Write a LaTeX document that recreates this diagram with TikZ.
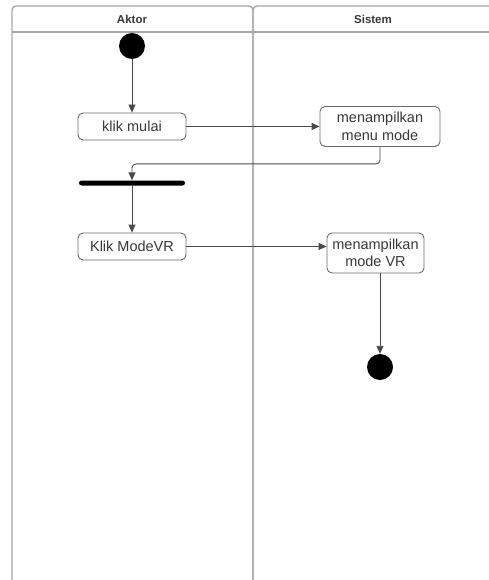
\documentclass[tikz,border=0pt]{standalone}
\usepackage{fontspec}
\setmainfont{Liberation Sans}
\usetikzlibrary{arrows.meta}
\definecolor{lanegray}{HTML}{A8A8A8}
\definecolor{boxgray}{HTML}{6A6A6A}
\definecolor{arrowgray}{HTML}{4A4A4A}
\definecolor{txt}{HTML}{383838}
\begin{document}
\begin{tikzpicture}[x=1pt,y=-1pt,
  lane/.style={draw=lanegray, line width=1.4pt, rounded corners=4pt},
  act/.style={draw=boxgray, line width=0.9pt, rounded corners=5pt, fill=white,
    text=txt, font=\fontsize{14.5}{17.5}\selectfont, align=center, inner sep=0pt},
  flow/.style={draw=arrowgray, line width=0.9pt, -{Triangle[length=8pt,width=7pt]}},
  dot/.style={circle, fill=black, minimum size=26pt, inner sep=0pt},
  syncbar/.style={fill=black, rounded corners=2.5pt, minimum width=106pt,
    minimum height=5pt, inner sep=0pt},
  head/.style={font=\bfseries\fontsize{11.5}{13}\selectfont, text=txt}]
\useasboundingbox (0,0) rectangle (488,580);

% swimlanes
\draw[lane] (12,590) -- (12,6) -- (253,6) -- (253,590);
\draw[lane] (253,590) -- (253,6) -- (500,6);
\draw[draw=lanegray, line width=1.4pt] (12,32) -- (500,32);
\node[head] (aktor) at (132,19) {Aktor};
\node[head] (sistem) at (373,19) {Sistem};

% activity nodes
\node[dot] (start) at (132,46) {};
\node[act, minimum width=108pt, minimum height=27pt] (klik) at (132,126.5) {klik mulai};
\node[act, minimum width=120pt, minimum height=40pt] (menu) at (380,126.5) {menampilkan\\menu mode};
\node[syncbar] (fork) at (132,183) {};
\node[act, minimum width=108pt, minimum height=27pt] (klikvr) at (132,246.5) {Klik ModeVR};
\node[act, minimum width=97pt, minimum height=40pt] (modevr) at (375.5,253) {menampilkan\\mode VR};
\node[dot] (end) at (380,367) {};

% control flow
\draw[flow] (start.south) -- (klik.north);
\draw[flow] (klik.east) -- (klik.east -| menu.west);
\draw[flow, rounded corners=4pt] (menu.south) -- ++(0,17) -| (fork.north);
\draw[flow] (fork.south) -- (klikvr.north);
\draw[flow] (klikvr.east) -- (klikvr.east -| modevr.west);
\draw[flow] (modevr.south -| end) -- (end.north);
\end{tikzpicture}
\end{document}
